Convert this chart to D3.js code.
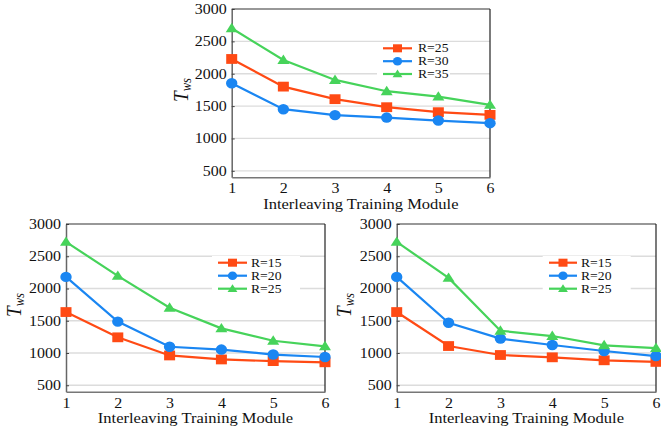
<!DOCTYPE html>
<html><head><meta charset="utf-8">
<script src="https://cdn.jsdelivr.net/npm/d3@7"></script>
<style>
body{margin:0;background:#fff}
svg{display:block}
svg text{font-family:"Liberation Serif","Times New Roman",serif !important;fill:#111}
</style>
</head><body>
<svg id="c" width="661" height="426"></svg>
<script>
// ---- data ----
const modules = [1, 2, 3, 4, 5, 6];
const yTicks = [500, 1000, 1500, 2000, 2500, 3000];
const xTitle = "Interleaving Training Module";

const topLabels = ["R=25", "R=30", "R=35"];
const topR25 = [2228, 1801, 1607, 1483, 1406, 1364];
const topR30 = [1853, 1452, 1360, 1323, 1277, 1236];
const topR35 = [2702, 2213, 1904, 1730, 1647, 1519];

const leftLabels = ["R=15", "R=20", "R=25"];
const leftR15 = [1635, 1243, 962, 900, 874, 856];
const leftR20 = [2180, 1487, 1097, 1053, 976, 938];
const leftR25 = [2723, 2195, 1701, 1382, 1190, 1104];

const rightLabels = ["R=15", "R=20", "R=25"];
const rightR15 = [1635, 1108, 969, 933, 887, 862];
const rightR20 = [2180, 1469, 1223, 1124, 1031, 953];
const rightR25 = [2723, 2164, 1345, 1263, 1119, 1077];

const colors = ["#ff4a14", "#1a86f2", "#46d35a"];
const shapes = ["square", "circle", "triangle"];
const SX = 1.14; // horizontal text stretch of the source image
const FONT = '"Liberation Serif","Times New Roman",serif';

const panels = [
  {left: 231.7, right: 490, top: 9, bottom: 177.3, ylab: [182, 90],
   series: [topR25, topR30, topR35], labels: topLabels,
   leg: {x0: 377, x1: 450, y0: 42, y1: 81, lx1: 383, lx2: 412, tx: 418, rows: [48.3, 61.2, 74]}},
  {left: 66, right: 325, top: 224, bottom: 391.7, ylab: [15, 305],
   series: [leftR15, leftR20, leftR25], labels: leftLabels,
   leg: {x0: 212, x1: 300, y0: 256, y1: 295, lx1: 218, lx2: 247, tx: 251, rows: [262.7, 275.7, 288.7]}},
  {left: 396.7, right: 656, top: 224, bottom: 391.7, ylab: [345, 305],
   series: [rightR15, rightR20, rightR25], labels: rightLabels,
   leg: {x0: 542.7, x1: 630.7, y0: 256, y1: 295, lx1: 549, lx2: 577, tx: 581, rows: [262.7, 275.7, 288.7]}}
];

function markerPath(shape, cx, cy, s) {
  if (shape === "square") {
    const w = 11 * s, h = 9.8 * s;
    return `M${cx - w / 2},${cy - h / 2}h${w}v${h}h${-w}Z`;
  }
  if (shape === "circle") {
    const rx = 5.7 * s, ry = 5.2 * s;
    return `M${cx - rx},${cy}a${rx},${ry} 0 1,0 ${2 * rx},0a${rx},${ry} 0 1,0 ${-2 * rx},0Z`;
  }
  const w = 12 * s, h = 9.4 * s;
  return `M${cx},${cy - h * 0.58}L${cx + w / 2},${cy + h * 0.42}L${cx - w / 2},${cy + h * 0.42}Z`;
}

const svg = d3.select("#c");

panels.forEach(p => {
  const x = d3.scaleLinear().domain([1, 6]).range([p.left, p.right]);
  const y = d3.scaleLinear().domain([400, 3000]).range([p.bottom, p.top]);
  const g = svg.append("g");

  // gridlines
  g.selectAll("line.grid").data(yTicks.filter(v => v < 3000)).join("line")
    .attr("x1", p.left).attr("x2", p.right)
    .attr("y1", d => y(d)).attr("y2", d => y(d))
    .attr("stroke", "#dcdcdc").attr("stroke-width", 1.3);

  // legend background
  g.append("rect").attr("x", p.leg.x0).attr("y", p.leg.y0)
    .attr("width", p.leg.x1 - p.leg.x0).attr("height", p.leg.y1 - p.leg.y0)
    .attr("fill", "#fff");

  // y axis
  const ya = g.append("g").attr("transform", `translate(${p.left},0)`)
    .call(d3.axisLeft(y).tickValues(yTicks).tickFormat(d3.format("d"))
      .tickSizeInner(-3).tickSizeOuter(0).tickPadding(5));
  ya.attr("font-family", null).attr("font-size", null);
  ya.select(".domain").attr("stroke", "#666").attr("stroke-width", 1.5);
  ya.selectAll(".tick line").attr("stroke", "#444");
  ya.selectAll(".tick text").style("font-size", "14px").style("font-family", FONT)
    .attr("fill", "#111").attr("x", -5 / SX).attr("transform", `scale(${SX},1)`);

  // x axis
  const xa = g.append("g").attr("transform", `translate(0,${p.bottom})`)
    .call(d3.axisBottom(x).tickValues(modules).tickSize(0).tickPadding(0).tickFormat(d3.format("d")));
  xa.attr("font-family", null).attr("font-size", null);
  xa.select(".domain").attr("stroke", "#777").attr("stroke-width", 1.5);
  xa.selectAll(".tick text").style("font-size", "14px").style("font-family", FONT)
    .attr("fill", "#111").attr("y", 6).attr("transform", `scale(${SX},1)`)
    .attr("x", 0);

  // top & right border
  g.append("line").attr("x1", p.left).attr("x2", p.right).attr("y1", p.top).attr("y2", p.top)
    .attr("stroke", "#333").attr("stroke-width", 1.2);
  g.append("line").attr("x1", p.right).attr("x2", p.right).attr("y1", p.top).attr("y2", p.bottom)
    .attr("stroke", "#222").attr("stroke-width", 1.2);

  // axis titles
  g.append("text").attr("transform", `translate(${(p.left + p.right) / 2},${p.bottom + 31.5}) scale(${SX},1)`)
    .attr("text-anchor", "middle").style("font-size", "14.5px").style("font-family", FONT).text(xTitle);
  const yl = g.append("text")
    .attr("transform", `translate(${p.ylab[0] + 5.5},${p.ylab[1]}) scale(${SX},1) rotate(-90)`)
    .attr("text-anchor", "middle").style("font-family", FONT);
  yl.append("tspan").style("font-size", "19px").style("font-style", "italic").text("T");
  yl.append("tspan").style("font-size", "12.5px").style("font-style", "italic").attr("dy", 3).text("ws");

  // series
  const line = d3.line().x((d, i) => x(modules[i])).y(d => y(d));
  p.series.forEach((vals, k) => {
    g.append("path").datum(vals).attr("d", line)
      .attr("fill", "none").attr("stroke", colors[k]).attr("stroke-width", 2.2);
  });
  p.series.forEach((vals, k) => {
    g.selectAll(null).data(vals).join("path")
      .attr("d", (d, i) => markerPath(shapes[k], x(modules[i]), y(d), 1))
      .attr("fill", colors[k]);
  });

  // legend
  p.labels.forEach((lab, k) => {
    const ry = p.leg.rows[k];
    g.append("line").attr("x1", p.leg.lx1).attr("x2", p.leg.lx2).attr("y1", ry).attr("y2", ry)
      .attr("stroke", colors[k]).attr("stroke-width", 2.2);
    g.append("path").attr("d", markerPath(shapes[k], (p.leg.lx1 + p.leg.lx2) / 2, ry, 0.82))
      .attr("fill", colors[k]);
    g.append("text").attr("transform", `translate(${p.leg.tx},${ry + 4}) scale(${SX},1)`)
      .style("font-size", "12px").style("font-family", FONT).text(lab);
  });
});
</script>
</body></html>
